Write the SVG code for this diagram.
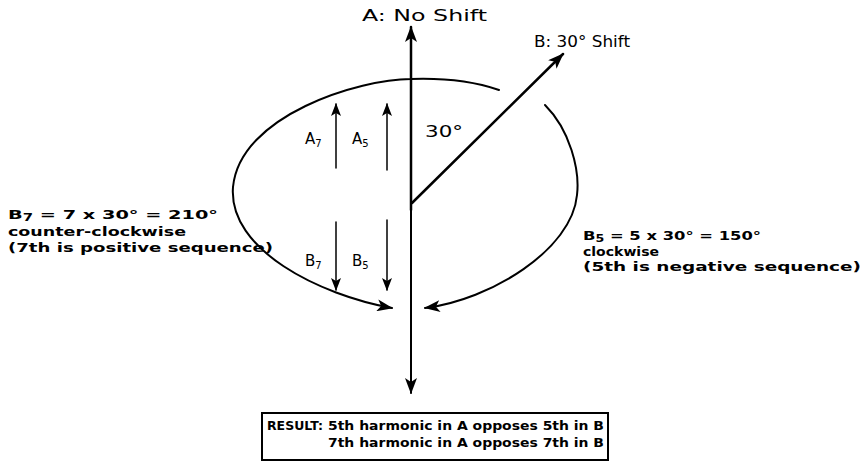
<svg xmlns="http://www.w3.org/2000/svg" width="867" height="465" viewBox="0 0 867 465">
  <style>
    .ln { fill: none; stroke: #000; stroke-linecap: round; }
    .lbl { font-family: "DejaVu Sans", "Liberation Sans", sans-serif; font-size: 15px; fill: #000; }
    .note { font-family: "DejaVu Sans", "Liberation Sans", sans-serif; font-size: 13px; font-weight: bold; fill: #000; }
  </style>
  <defs>
    <marker id="big" markerUnits="userSpaceOnUse" viewBox="0 0 16 12" refX="15" refY="6" markerWidth="16" markerHeight="12" orient="auto">
      <path d="M0,0 L16,6 L0,12 L4,6 z" fill="#000"/>
    </marker>
    <marker id="small" markerUnits="userSpaceOnUse" viewBox="0 0 13 10" refX="12" refY="5" markerWidth="13" markerHeight="10" orient="auto">
      <path d="M0,0 L13,5 L0,10 L3,5 z" fill="#000"/>
    </marker>
  </defs>

  <rect width="867" height="465" fill="#fff"/>

  <g id="connectors">
    <line id="axis-A-up" class="ln" x1="411" y1="210" x2="411" y2="27" stroke-width="2.5" marker-end="url(#big)"/>
    <line id="axis-A-down" class="ln" x1="411" y1="210" x2="411" y2="393" stroke-width="2" marker-end="url(#big)"/>
    <line id="axis-B" class="ln" x1="412" y1="203" x2="563" y2="54" stroke-width="2.5" marker-end="url(#big)"/>
    <path id="arc-B7" class="ln" stroke-width="2" d="M 499 90 C 470 80, 440 78, 411 79 C 360 79, 240 115, 233 187 C 228 250, 320 295, 392 308" marker-end="url(#big)"/>
    <path id="arc-B5" class="ln" stroke-width="2" d="M 545 105 C 570 130, 580 170, 577 195 C 572 250, 490 300, 425 308" marker-end="url(#big)"/>
    <line id="vec-A7" class="ln" x1="336" y1="168" x2="336" y2="104" stroke-width="1.5" marker-end="url(#small)"/>
    <line id="vec-A5" class="ln" x1="387" y1="170" x2="387" y2="104" stroke-width="1.5" marker-end="url(#small)"/>
    <line id="vec-B7" class="ln" x1="336" y1="222" x2="336" y2="290" stroke-width="1.5" marker-end="url(#small)"/>
    <line id="vec-B5" class="ln" x1="387" y1="220" x2="387" y2="290" stroke-width="1.5" marker-end="url(#small)"/>
  </g>

  <g id="label-A">
    <text class="lbl" x="362" y="21" textLength="125" lengthAdjust="spacingAndGlyphs">A: No Shift</text>
  </g>
  <g id="label-B">
    <text class="lbl" x="534" y="47" textLength="96" lengthAdjust="spacingAndGlyphs">B: 30° Shift</text>
  </g>
  <g id="label-angle">
    <text class="lbl" x="425" y="137" font-size="17" textLength="38" lengthAdjust="spacingAndGlyphs">30°</text>
  </g>
  <g id="label-A7">
    <text class="lbl" x="305" y="144">A<tspan font-size="10" dy="3">7</tspan></text>
  </g>
  <g id="label-A5">
    <text class="lbl" x="352" y="144">A<tspan font-size="10" dy="3">5</tspan></text>
  </g>
  <g id="label-B7">
    <text class="lbl" x="305" y="266">B<tspan font-size="10" dy="3">7</tspan></text>
  </g>
  <g id="label-B5">
    <text class="lbl" x="352" y="266">B<tspan font-size="10" dy="3">5</tspan></text>
  </g>

  <g id="note-B7">
    <text class="note" x="8" y="219" textLength="210" lengthAdjust="spacingAndGlyphs">B<tspan font-size="10" dy="2">7</tspan><tspan dy="-2"> = 7 x 30° = 210°</tspan></text>
    <text class="note" x="8" y="236" textLength="178" lengthAdjust="spacingAndGlyphs">counter-clockwise</text>
    <text class="note" x="8" y="252" textLength="265" lengthAdjust="spacingAndGlyphs">(7th is positive sequence)</text>
  </g>

  <g id="note-B5">
    <text class="note" x="583" y="240" textLength="178" lengthAdjust="spacingAndGlyphs">B<tspan font-size="10" dy="2">5</tspan><tspan dy="-2"> = 5 x 30° = 150°</tspan></text>
    <text class="note" x="583" y="256" textLength="76" lengthAdjust="spacingAndGlyphs">clockwise</text>
    <text class="note" x="583" y="271" textLength="278" lengthAdjust="spacingAndGlyphs">(5th is negative sequence)</text>
  </g>

  <g id="result-box">
    <rect x="262" y="413" width="346" height="47" fill="none" stroke="#000" stroke-width="2"/>
    <text class="note" x="267" y="430" font-size="12" textLength="56" lengthAdjust="spacingAndGlyphs">RESULT:</text>
    <text class="note" x="328" y="430" font-size="12" textLength="276" lengthAdjust="spacingAndGlyphs">5th harmonic in A opposes 5th in B</text>
    <text class="note" x="328" y="447" font-size="12" textLength="276" lengthAdjust="spacingAndGlyphs">7th harmonic in A opposes 7th in B</text>
  </g>
</svg>
